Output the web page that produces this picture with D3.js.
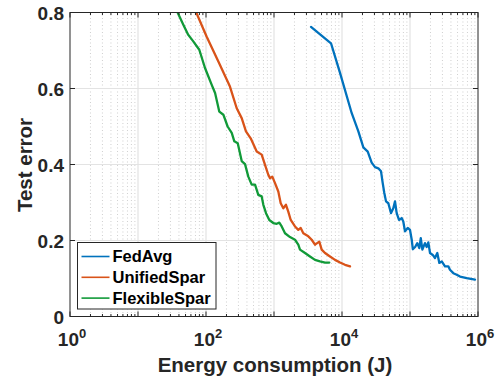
<!DOCTYPE html>
<html>
<head>
<meta charset="utf-8">
<script src="https://cdn.jsdelivr.net/npm/d3@7"></script>
<style>
  html, body { margin: 0; padding: 0; background: #fff; }
  svg { display: block; font-family: "Liberation Sans", Arial, Helvetica, sans-serif; font-weight: bold; }
</style>
</head>
<body>
<svg id="chart" width="500" height="383"></svg>
<script>
// Energy (J) vs test error
const fedAvgEnergy = [3500, 6890, 9350, 13900, 17400, 20600, 23900, 27300, 30600, 34200, 37500, 39700, 41900, 44400,
  48000, 52600, 56800, 60200, 63700, 68900, 75500, 79700, 84400, 92500, 100000, 106000, 110000, 119000, 128000,
  137000, 144000, 152000, 166000, 176000, 186000, 197000, 216000, 233000, 252000, 270000, 293000, 327000, 366000,
  387000, 434000, 486000, 544000, 682000, 904000];
const fedAvgError = [0.762, 0.719, 0.641, 0.535, 0.487, 0.445, 0.434, 0.405, 0.393, 0.390, 0.382, 0.351, 0.325, 0.303,
  0.298, 0.272, 0.285, 0.303, 0.272, 0.254, 0.259, 0.250, 0.224, 0.233, 0.228, 0.202, 0.177, 0.183, 0.193,
  0.180, 0.206, 0.176, 0.193, 0.183, 0.195, 0.167, 0.162, 0.154, 0.167, 0.141, 0.145, 0.132, 0.132,
  0.123, 0.114, 0.110, 0.105, 0.101, 0.097];

const unifiedEnergy = [68, 102, 152, 225, 283, 335, 387, 454, 557, 659, 738, 824, 873, 944, 1035, 1157, 1255, 1370,
  1500, 1622, 1762, 2036, 2277, 2470, 2698, 3195, 3585, 4010, 4637, 5027, 5623, 6662, 7889, 9350, 11070, 13120];
const unifiedError = [0.81, 0.737, 0.671, 0.605, 0.548, 0.522, 0.487, 0.469, 0.434, 0.426, 0.399, 0.373, 0.364, 0.368,
  0.351, 0.329, 0.298, 0.285, 0.294, 0.276, 0.254, 0.237, 0.228, 0.233, 0.219, 0.211, 0.202, 0.189, 0.197, 0.176,
  0.167, 0.158, 0.149, 0.142, 0.136, 0.132];

const flexibleEnergy = [36, 46.4, 54.9, 65.0, 79.7, 96.7, 121, 136, 157, 180, 208, 239, 261, 293, 335, 375, 419, 470,
  526, 588, 659, 697, 763, 853, 977, 1096, 1197, 1298, 1452, 1719, 2036, 2277, 2411, 2858, 3383, 4010, 4745, 5623, 6505];
const flexibleError = [0.81, 0.768, 0.741, 0.724, 0.702, 0.654, 0.610, 0.588, 0.539, 0.531, 0.500, 0.483, 0.461, 0.456,
  0.409, 0.401, 0.368, 0.347, 0.347, 0.320, 0.316, 0.294, 0.272, 0.254, 0.246, 0.244, 0.247, 0.237, 0.219, 0.209,
  0.202, 0.189, 0.176, 0.167, 0.158, 0.149, 0.145, 0.142, 0.142];

const seriesNames = ["FedAvg", "UnifiedSpar", "FlexibleSpar"];
const seriesColors = ["#0072bd", "#d95319", "#119a38"];
const xTickExps = [0, 2, 4, 6];
const yTicks = [0, 0.2, 0.4, 0.6, 0.8];

const W = 500, H = 383;
const m = { left: 70, right: 22, top: 12.5, bottom: 66.5 };
const x = d3.scaleLog().domain([1, 1e6]).range([m.left, W - m.right]);
const y = d3.scaleLinear().domain([0, 0.8]).range([H - m.bottom, m.top]);

const svg = d3.select("#chart");
const x0 = m.left, x1 = W - m.right, y0 = H - m.bottom, y1 = m.top;

// minor values per decade
const minor = [];
for (let e = 0; e < 6; e++) for (let k = 2; k <= 9; k++) minor.push(k * Math.pow(10, e));

// grid
const grid = svg.append("g");
grid.selectAll(".mg").data(minor).enter().append("line")
  .attr("x1", d => x(d)).attr("x2", d => x(d)).attr("y1", y0).attr("y2", y1)
  .attr("stroke", "#c4c4c4").attr("stroke-width", 0.8).attr("stroke-dasharray", "1,2.5");
grid.selectAll(".gx").data([1, 2, 3, 4, 5]).enter().append("line")
  .attr("x1", d => x(Math.pow(10, d))).attr("x2", d => x(Math.pow(10, d))).attr("y1", y0).attr("y2", y1)
  .attr("stroke", "#e3e3e3").attr("stroke-width", 1.2);
grid.selectAll(".gy").data(yTicks.slice(1, -1)).enter().append("line")
  .attr("x1", x0).attr("x2", x1).attr("y1", d => y(d)).attr("y2", d => y(d))
  .attr("stroke", "#e3e3e3").attr("stroke-width", 1.2);

// data lines
svg.append("clipPath").attr("id", "clip").append("rect")
  .attr("x", x0).attr("y", y1).attr("width", x1 - x0).attr("height", y0 - y1);
const line = d3.line().x(d => x(d[0])).y(d => y(d[1]));
const series = [
  d3.zip(fedAvgEnergy, fedAvgError),
  d3.zip(unifiedEnergy, unifiedError),
  d3.zip(flexibleEnergy, flexibleError)
];
svg.append("g").attr("clip-path", "url(#clip)").selectAll("path").data(series).enter().append("path")
  .attr("d", line).attr("fill", "none")
  .attr("stroke", (d, i) => seriesColors[i]).attr("stroke-width", 2.3)
  .attr("stroke-linejoin", "round").attr("stroke-linecap", "round");

// box + ticks (MATLAB style, inward on all sides)
const ax = svg.append("g").attr("stroke", "#262626").attr("stroke-width", 1);
ax.append("rect").attr("x", x0).attr("y", y1).attr("width", x1 - x0).attr("height", y0 - y1).attr("fill", "none");
for (const e of [0, 1, 2, 3, 4, 5, 6]) {
  const px = x(Math.pow(10, e));
  ax.append("line").attr("x1", px).attr("x2", px).attr("y1", y0).attr("y2", y0 - 5);
  ax.append("line").attr("x1", px).attr("x2", px).attr("y1", y1).attr("y2", y1 + 5);
}
for (const v of minor) {
  const px = x(v);
  ax.append("line").attr("x1", px).attr("x2", px).attr("y1", y0).attr("y2", y0 - 2.5);
  ax.append("line").attr("x1", px).attr("x2", px).attr("y1", y1).attr("y2", y1 + 2.5);
}
for (const v of yTicks) {
  ax.append("line").attr("x1", x0).attr("x2", x0 + 5).attr("y1", y(v)).attr("y2", y(v));
  ax.append("line").attr("x1", x1).attr("x2", x1 - 5).attr("y1", y(v)).attr("y2", y(v));
}

// tick labels
svg.append("g").selectAll("text").data(yTicks).enter().append("text")
  .attr("x", x0 - 6).attr("y", d => y(d) + 7).attr("text-anchor", "end")
  .attr("font-size", 19).attr("fill", "#262626").text(d => d === 0 ? "0" : d.toFixed(1));
const xl = svg.append("g").selectAll("text").data(xTickExps).enter().append("text")
  .attr("x", d => x(Math.pow(10, d)) + 2).attr("y", 346).attr("text-anchor", "middle")
  .attr("font-size", 19).attr("fill", "#262626");
xl.append("tspan").text("10");
xl.append("tspan").attr("font-size", 13).attr("dy", -8.5).text(d => d);

// axis labels
svg.append("text").attr("x", (x0 + x1) / 2 + 1).attr("y", 372).attr("text-anchor", "middle")
  .attr("font-size", 20.5).attr("fill", "#262626").text("Energy consumption (J)");
svg.append("text").attr("transform", "translate(32,165) rotate(-90)").attr("text-anchor", "middle")
  .attr("font-size", 20.5).attr("fill", "#262626").text("Test error");

// legend
const lg = svg.append("g").attr("transform", "translate(77.5,242.5)");
lg.append("rect").attr("width", 138.5).attr("height", 66.5).attr("fill", "#fff").attr("stroke", "#262626").attr("stroke-width", 1);
seriesNames.forEach((name, i) => {
  const cy = 14 + i * 20.8;
  lg.append("line").attr("x1", 4).attr("x2", 32).attr("y1", cy).attr("y2", cy)
    .attr("stroke", seriesColors[i]).attr("stroke-width", 1.6);
  lg.append("text").attr("x", 35).attr("y", cy + 5.8).attr("font-size", 16.5).attr("fill", "#000").text(name);
});
</script>
</body>
</html>
